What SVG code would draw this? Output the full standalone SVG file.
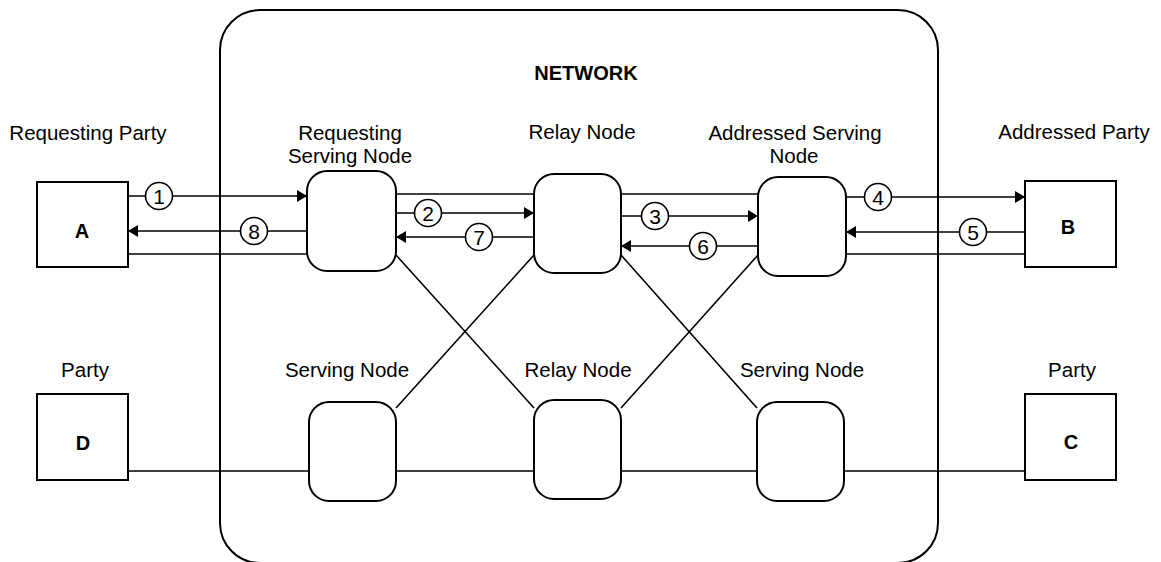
<svg xmlns="http://www.w3.org/2000/svg" width="1161" height="562" viewBox="0 0 1161 562">
<defs>
<style>
.box{fill:#fff;stroke:#000;stroke-width:2}
.net{fill:none;stroke:#000;stroke-width:2}
.ln{fill:none;stroke:#000;stroke-width:1.6}
.arr{fill:none;stroke:#000;stroke-width:1.6;marker-end:url(#ah)}
.cir{fill:#fff;stroke:#000;stroke-width:1.6}
.lbl{font-family:"Liberation Sans",Arial,sans-serif;font-size:20.5px;text-anchor:middle;fill:#000}
.num{font-family:"Liberation Sans",Arial,sans-serif;font-size:21px;text-anchor:middle;fill:#000}
.bold{font-family:"Liberation Sans",Arial,sans-serif;font-size:20px;font-weight:bold;text-anchor:middle;fill:#000}
</style>
<marker id="ah" markerUnits="userSpaceOnUse" markerWidth="11" markerHeight="12" refX="10" refY="6" orient="auto">
<path d="M0,0 L10,6 L0,12 z" fill="#000"/>
</marker>
</defs>
<rect width="1161" height="562" fill="#fff"/>
<g id="network">
<rect class="net" x="220" y="10" width="718" height="553" rx="40" ry="40"/>
<text class="bold" x="586" y="80">NETWORK</text>
</g>
<g id="connectors">
<line class="arr" x1="128" y1="196" x2="307" y2="196"/>
<line class="arr" x1="307" y1="231" x2="128" y2="231"/>
<line class="ln" x1="128" y1="254" x2="307" y2="254"/>
<line class="ln" x1="396" y1="194" x2="534" y2="194"/>
<line class="arr" x1="396" y1="213" x2="534" y2="213"/>
<line class="arr" x1="534" y1="237" x2="396" y2="237"/>
<line class="ln" x1="621" y1="194" x2="758" y2="194"/>
<line class="arr" x1="621" y1="216" x2="758" y2="216"/>
<line class="arr" x1="758" y1="246" x2="621" y2="246"/>
<line class="arr" x1="846" y1="197" x2="1025" y2="197"/>
<line class="arr" x1="1025" y1="232" x2="846" y2="232"/>
<line class="ln" x1="846" y1="254" x2="1025" y2="254"/>
<line class="ln" x1="396" y1="255" x2="534" y2="408"/>
<line class="ln" x1="534" y1="255" x2="396" y2="408"/>
<line class="ln" x1="621" y1="255" x2="757" y2="408"/>
<line class="ln" x1="758" y1="255" x2="621" y2="408"/>
<line class="ln" x1="128" y1="471" x2="309" y2="471"/>
<line class="ln" x1="396" y1="471" x2="534" y2="471"/>
<line class="ln" x1="621" y1="471" x2="757" y2="471"/>
<line class="ln" x1="844" y1="471" x2="1025" y2="471"/>
<circle class="cir" cx="159" cy="196" r="13.5"/><text class="num" x="159" y="203.5">1</text>
<circle class="cir" cx="428" cy="213" r="13.5"/><text class="num" x="428" y="220.5">2</text>
<circle class="cir" cx="655" cy="216" r="13.5"/><text class="num" x="655" y="223.5">3</text>
<circle class="cir" cx="878" cy="197" r="13.5"/><text class="num" x="878" y="204.5">4</text>
<circle class="cir" cx="973" cy="232" r="13.5"/><text class="num" x="973" y="239.5">5</text>
<circle class="cir" cx="703" cy="246" r="13.5"/><text class="num" x="703" y="253.5">6</text>
<circle class="cir" cx="479" cy="237" r="13.5"/><text class="num" x="479" y="244.5">7</text>
<circle class="cir" cx="254" cy="231" r="13.5"/><text class="num" x="254" y="238.5">8</text>
</g>
<g id="party-a">
<text class="lbl" x="88" y="140">Requesting Party</text>
<rect class="box" x="37" y="182" width="91" height="85"/>
<text class="bold" x="82" y="238">A</text>
</g>
<g id="requesting-serving-node">
<text class="lbl" x="350" y="140">Requesting</text>
<text class="lbl" x="350" y="163">Serving Node</text>
<rect class="box" x="307" y="171" width="89" height="100" rx="20" ry="20"/>
</g>
<g id="relay-node-top">
<text class="lbl" x="582" y="139">Relay Node</text>
<rect class="box" x="534" y="174" width="87" height="99" rx="20" ry="20"/>
</g>
<g id="addressed-serving-node">
<text class="lbl" x="795" y="140">Addressed Serving</text>
<text class="lbl" x="794" y="163">Node</text>
<rect class="box" x="758" y="177" width="88" height="99" rx="20" ry="20"/>
</g>
<g id="party-b">
<text class="lbl" x="1074" y="139">Addressed Party</text>
<rect class="box" x="1025" y="181" width="91" height="86"/>
<text class="bold" x="1068" y="234">B</text>
</g>
<g id="party-d">
<text class="lbl" x="85" y="377">Party</text>
<rect class="box" x="37" y="394" width="91" height="86"/>
<text class="bold" x="83" y="450">D</text>
</g>
<g id="serving-node-left">
<text class="lbl" x="347" y="377">Serving Node</text>
<rect class="box" x="309" y="402" width="87" height="99" rx="20" ry="20"/>
</g>
<g id="relay-node-bottom">
<text class="lbl" x="578" y="377">Relay Node</text>
<rect class="box" x="534" y="400" width="87" height="99" rx="20" ry="20"/>
</g>
<g id="serving-node-right">
<text class="lbl" x="802" y="377">Serving Node</text>
<rect class="box" x="757" y="402" width="87" height="99" rx="20" ry="20"/>
</g>
<g id="party-c">
<text class="lbl" x="1072" y="377">Party</text>
<rect class="box" x="1025" y="394" width="91" height="86"/>
<text class="bold" x="1071" y="449">C</text>
</g>
</svg>
